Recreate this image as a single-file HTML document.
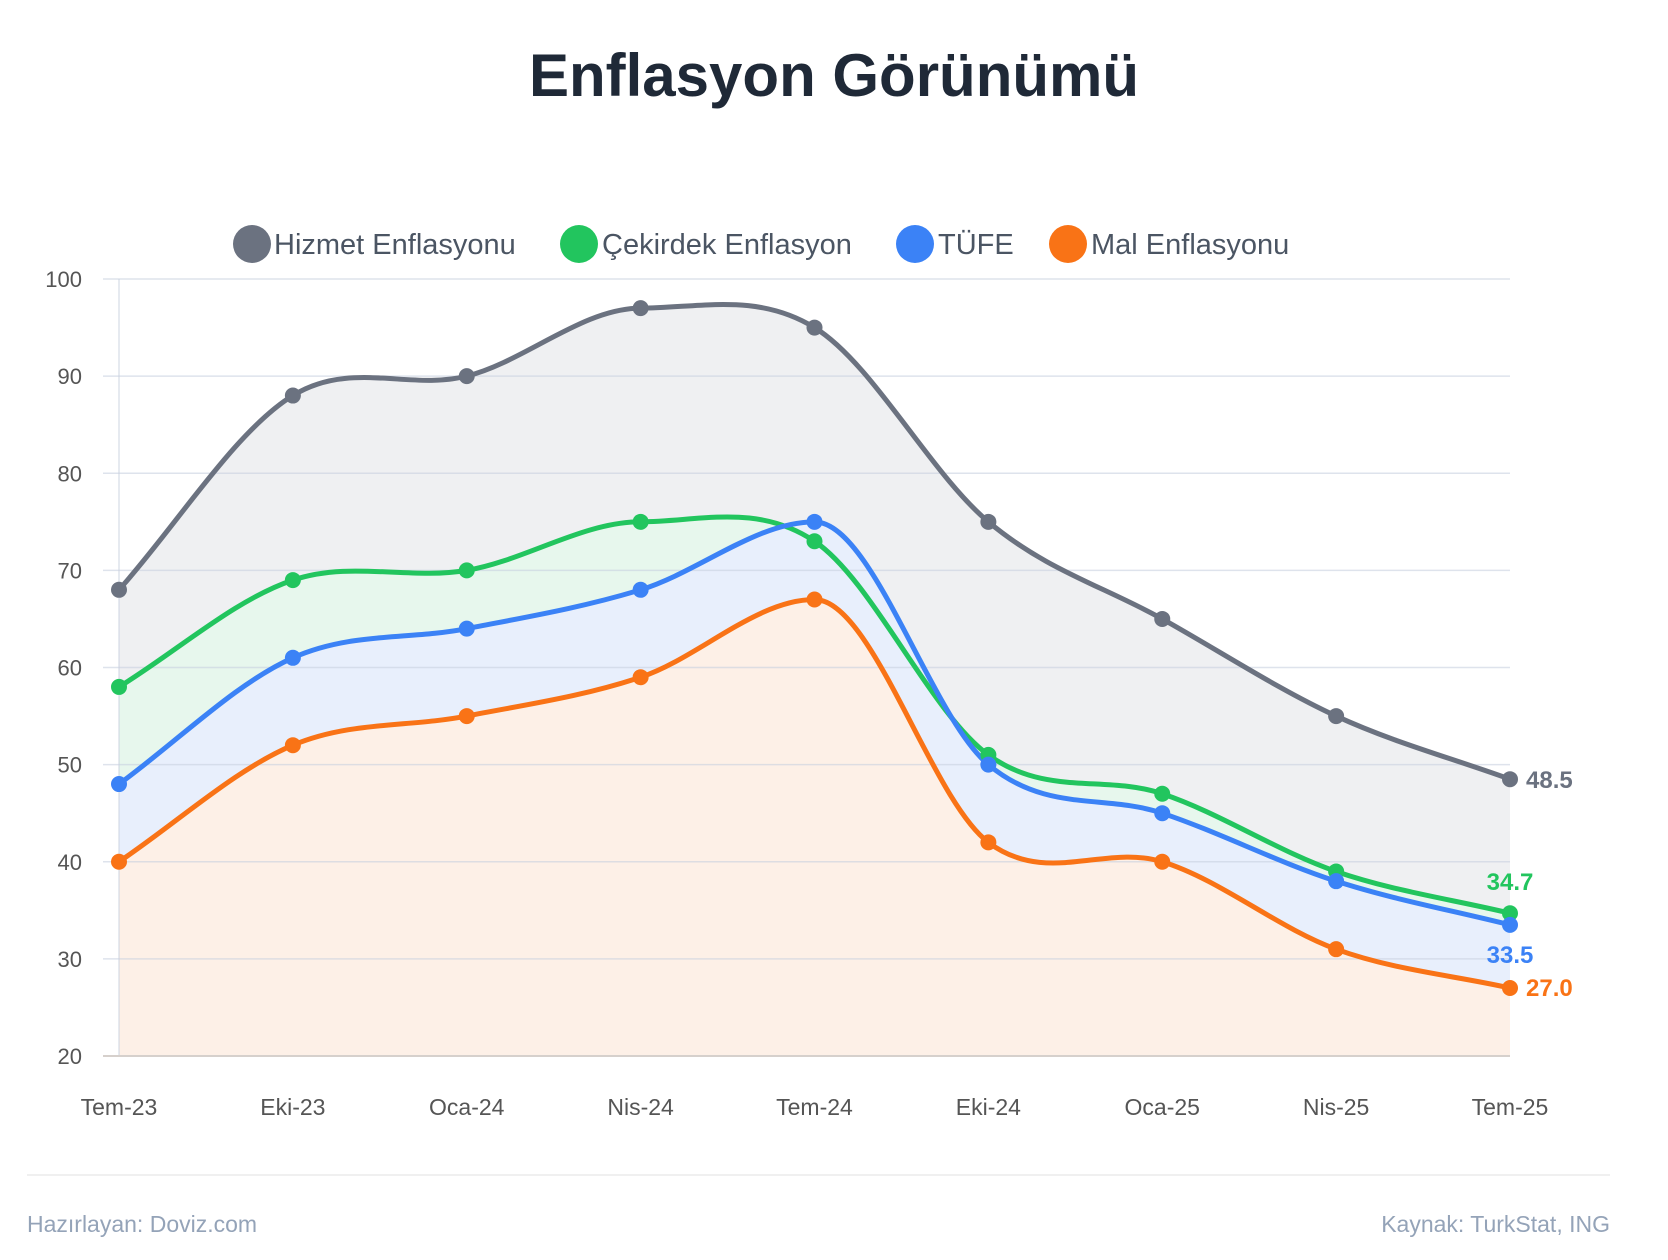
<!DOCTYPE html>
<html><head><meta charset="utf-8"><style>
html,body{margin:0;padding:0;background:#fff;}
svg{display:block;font-family:"Liberation Sans",sans-serif;}
</style></head><body>
<svg id="c" width="1668" height="1260" viewBox="0 0 1668 1260" xmlns="http://www.w3.org/2000/svg">
<text x="834" y="96" text-anchor="middle" font-size="60" font-weight="bold" fill="#1f2937">Enflasyon Görünümü</text>
<g font-size="29" fill="#4b5563">
<circle cx="252" cy="244" r="19" fill="#6b7280"/><text x="274" y="254">Hizmet Enflasyonu</text>
<circle cx="579" cy="244" r="19" fill="#22c55e"/><text x="602" y="254">Çekirdek Enflasyon</text>
<circle cx="915" cy="244" r="19" fill="#3b82f6"/><text x="938" y="254">TÜFE</text>
<circle cx="1068" cy="244" r="19" fill="#f97316"/><text x="1091" y="254">Mal Enflasyonu</text>
</g>
<g id="areas"></g>
<g id="grid"></g>
<g id="lines"></g>
<g font-size="24" font-weight="bold">
<text x="1526" y="788" fill="#6b7280">48.5</text>
<text x="1510" y="890" fill="#22c55e" text-anchor="middle">34.7</text>
<text x="1510" y="963" fill="#3b82f6" text-anchor="middle">33.5</text>
<text x="1526" y="996" fill="#f97316">27.0</text>
</g>
<line x1="27" y1="1175" x2="1610" y2="1175" stroke="#f0f0f0" stroke-width="2"/>
<text x="27" y="1232" font-size="23" fill="#94a3b8">Hazırlayan: Doviz.com</text>
<text x="1610" y="1232" font-size="23" fill="#94a3b8" text-anchor="end">Kaynak: TurkStat, ING</text>
</svg>
<script>
var NS="http://www.w3.org/2000/svg";
function el(t,a,p,txt){var e=document.createElementNS(NS,t);for(var k in a)e.setAttribute(k,a[k]);if(txt)e.textContent=txt;document.getElementById(p).appendChild(e);return e;}
var X0=119,DX=(1510-119)/8;
function Y(v){return 279+(100-v)*9.7125;}
for(var v=20;v<=100;v+=10){el("line",{x1:103,x2:1510,y1:Y(v),y2:Y(v),stroke:"rgba(200,208,224,0.6)","stroke-width":1.5},"grid");
el("text",{x:82,y:Y(v)+8,"text-anchor":"end","font-size":22,fill:"#555"},"grid",String(v));}
el("line",{x1:X0,x2:X0,y1:279,y2:1056,stroke:"rgba(200,208,224,0.6)","stroke-width":1.5},"grid");
var labs=["Tem-23","Eki-23","Oca-24","Nis-24","Tem-24","Eki-24","Oca-25","Nis-25","Tem-25"];
labs.forEach(function(l,i){el("text",{x:X0+i*DX,y:1115,"text-anchor":"middle","font-size":23,fill:"#555"},"grid",l);});
var S=[["#6b7280",[68,88,90,97,95,75,65,55,48.5],"#eff0f2"],
["#22c55e",[58,69,70,75,73,51,47,39,34.7],"#e7f7ed"],
["#3b82f6",[48,61,64,68,75,50,45,38,33.5],"#e8effc"],
["#f97316",[40,52,55,59,67,42,40,31,27],"#fdf0e7"]];
function path(d){var n=d.length,xs=[],ys=[];for(var i=0;i<n;i++){xs.push(X0+i*DX);ys.push(Y(d[i]));}
var m=[],dl=[];for(i=0;i<n-1;i++)dl.push((ys[i+1]-ys[i])/DX);
m[0]=dl[0];m[n-1]=dl[n-2];for(i=1;i<n-1;i++){if(dl[i-1]*dl[i]<=0)m[i]=0;else m[i]=(dl[i-1]+dl[i])/2;}
var p="M"+xs[0]+","+ys[0];for(i=0;i<n-1;i++){var h=DX/3;p+=" C"+(xs[i]+h)+","+(ys[i]+m[i]*h)+" "+(xs[i+1]-h)+","+(ys[i+1]-m[i+1]*h)+" "+xs[i+1]+","+ys[i+1];}
return p;}
S.forEach(function(s){var p=path(s[1]);
el("path",{d:p+" L1510,1056 L119,1056 Z",fill:s[2]},"areas");
el("path",{d:p,fill:"none",stroke:s[0],"stroke-width":5,"stroke-linejoin":"round"},"lines");});
S.forEach(function(s){s[1].forEach(function(v,i){el("circle",{cx:X0+i*DX,cy:Y(v),r:8,fill:s[0]},"lines");});});
el("line",{x1:103,x2:1510,y1:1056,y2:1056,stroke:"#d6d0cc","stroke-width":2},"lines");
</script>
</body></html>
